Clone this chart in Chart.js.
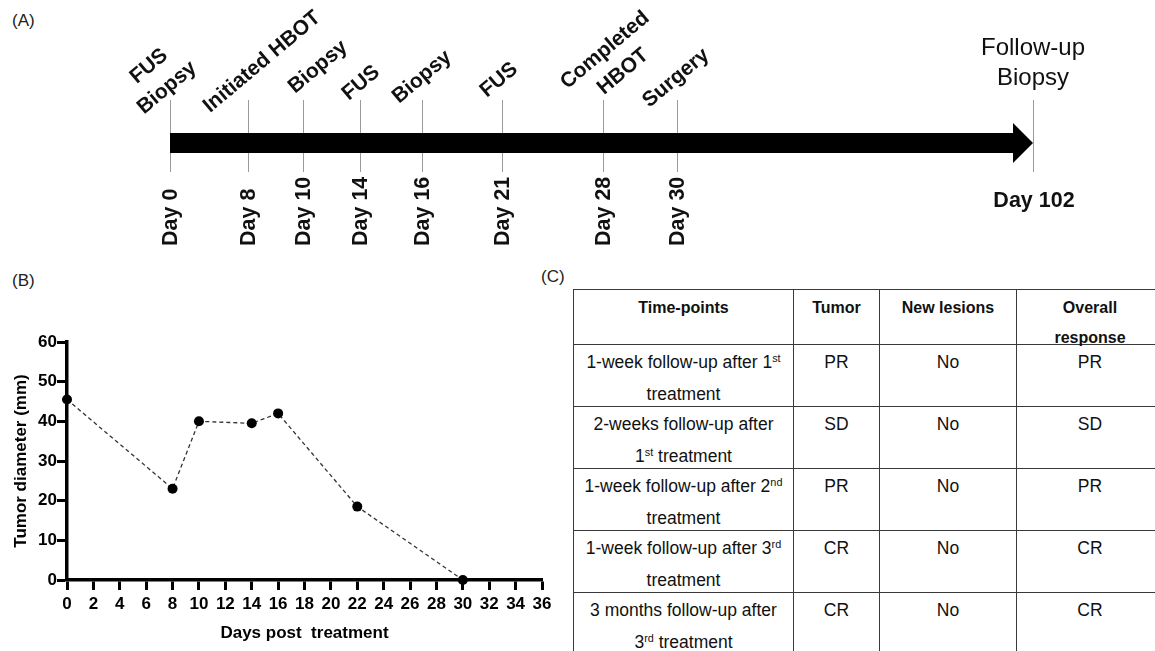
<!DOCTYPE html>
<html><head><meta charset="utf-8">
<script src="https://cdn.jsdelivr.net/npm/chart.js@4/dist/chart.umd.min.js"></script>
<style>
html,body{margin:0;padding:0;background:#fff;width:1155px;height:651px;overflow:hidden;position:relative;font-family:"Liberation Sans",Arial,Helvetica,sans-serif;color:#111;}
.plab{position:absolute;font-size:17px;color:#222;line-height:1;}
#cA{position:absolute;left:0;top:0;}
#cB{position:absolute;left:0;top:290px;}
table{position:absolute;left:573px;top:289px;border-collapse:collapse;table-layout:fixed;width:590px;}
td,th{border:1px solid #3a3a3a;text-align:center;vertical-align:top;padding:0;white-space:nowrap;color:#111;}
th div{height:54px;overflow:visible;font-weight:bold;font-size:16px;line-height:30px;padding-top:3px;box-sizing:border-box;}
td div{height:61px;overflow:visible;font-size:17.5px;line-height:32px;padding-top:1px;box-sizing:border-box;}
sup{font-size:0.62em;line-height:0;vertical-align:0.55em;}
</style></head>
<body>
<div class="plab" style="left:12px;top:12px;">(A)</div>
<div class="plab" style="left:12px;top:272px;">(B)</div>
<div class="plab" style="left:541px;top:268px;">(C)</div>
<canvas id="cA" width="1155" height="270"></canvas>
<canvas id="cB" width="560" height="361"></canvas>
<table id="tbl"></table>
<script>
// ---------- Data ----------
// Panel A: timeline events
const timelineDays = [0, 8, 10, 14, 16, 21, 28, 30, 102];
const timelineEvents = [["FUS", "Biopsy"], ["Initiated HBOT"], ["Biopsy"], ["FUS"], ["Biopsy"], ["FUS"], ["Completed", "HBOT"], ["Surgery"], ["Follow-up", "Biopsy"]];
// schematic position along the timeline arrow (0 = start, 100 = arrow tip)
const timelinePos = [0, 9.04, 15.41, 22.02, 29.20, 38.47, 50.17, 58.75, 100];

// Panel B: tumor diameter
const days = [0, 8, 10, 14, 16, 22, 30];
const tumorDiameter = [45.5, 23, 40, 39.5, 42, 18.5, 0];

// Panel C: response table
const tableHeader = ["Time-points", "Tumor", "New lesions", "Overall<br>response"];
const timePoints = [
  ["1-week follow-up after 1<sup>st</sup>", "treatment"],
  ["2-weeks follow-up after", "1<sup>st</sup> treatment"],
  ["1-week follow-up after 2<sup>nd</sup>", "treatment"],
  ["1-week follow-up after 3<sup>rd</sup>", "treatment"],
  ["3 months follow-up after", "3<sup>rd</sup> treatment"]
];
const tumorResponse = ["PR", "SD", "PR", "CR", "CR"];
const newLesions = ["No", "No", "No", "No", "No"];
const overallResponse = ["PR", "SD", "PR", "CR", "CR"];

// ---------- Styles ----------
const FONT = '"Liberation Sans", Arial, Helvetica, sans-serif';
Chart.defaults.font.family = FONT;
Chart.defaults.color = '#000';
// label placement for the event labels above the arrow (offset from tick, centre y)
const eventLabelStyle = [
  {dx: -12, cy: 77}, {dx: 14, cy: 62}, {dx: 15, cy: 67}, {dx: 1, cy: 83},
  {dx: 0, cy: 77}, {dx: -3, cy: 80}, {dx: 11, cy: 61}, {dx: -1, cy: 78}, {plain: true}
];

// ---------- Panel A ----------
const timelinePlugin = {
  id: 'timeline',
  afterDatasetsDraw(chart) {
    const {ctx} = chart;
    const xs = chart.scales.x, ys = chart.scales.y;
    const cy = ys.getPixelForValue(0);
    const px = timelinePos.map(p => xs.getPixelForValue(p));
    ctx.save();
    // event ticks
    ctx.strokeStyle = '#9a9a9a';
    ctx.lineWidth = 1;
    px.forEach(x => {
      ctx.beginPath();
      ctx.moveTo(Math.round(x) + 0.5, cy - 43);
      ctx.lineTo(Math.round(x) + 0.5, cy + 29);
      ctx.stroke();
    });
    // arrow
    const xa = px[0], xb = px[px.length - 1], head = 20;
    ctx.fillStyle = '#000';
    ctx.fillRect(xa, cy - 10, xb - head - xa, 20);
    ctx.beginPath();
    ctx.moveTo(xb - head, cy - 20);
    ctx.lineTo(xb, cy);
    ctx.lineTo(xb - head, cy + 20);
    ctx.closePath();
    ctx.fill();
    // labels
    ctx.fillStyle = '#111';
    timelineDays.forEach((d, i) => {
      const x = px[i];
      const st = eventLabelStyle[i];
      const dayText = 'Day ' + d;
      if (st.plain) {
        ctx.font = 'bold 21.5px ' + FONT;
        ctx.textAlign = 'center';
        ctx.textBaseline = 'alphabetic';
        ctx.fillText(dayText, x + 1, 207);
        ctx.font = '24px ' + FONT;
        timelineEvents[i].forEach((t, k) => ctx.fillText(t, x, 55 + k * 30));
      } else {
        // day label, rotated vertical
        ctx.save();
        ctx.translate(x + 7, 246);
        ctx.rotate(-Math.PI / 2);
        ctx.font = 'bold 21.5px ' + FONT;
        ctx.textAlign = 'left';
        ctx.textBaseline = 'alphabetic';
        ctx.fillText(dayText, 0, 0);
        ctx.restore();
        // event label, rotated 40 degrees
        ctx.save();
        ctx.translate(x + st.dx, st.cy);
        ctx.rotate(-40 * Math.PI / 180);
        ctx.font = 'bold 21px ' + FONT;
        ctx.textAlign = 'center';
        ctx.textBaseline = 'middle';
        const lines = timelineEvents[i];
        lines.forEach((t, k) => ctx.fillText(t, 0, (k - (lines.length - 1) / 2) * 28));
        ctx.restore();
      }
    });
    ctx.restore();
  }
};

new Chart(document.getElementById('cA'), {
  type: 'scatter',
  data: {datasets: [{data: timelinePos.map(p => ({x: p, y: 0})), pointRadius: 0}]},
  options: {
    responsive: false, animation: false, events: [],
    layout: {padding: {left: 170, right: 122, top: 16, bottom: 0}},
    plugins: {legend: {display: false}, tooltip: {enabled: false}},
    scales: {
      x: {type: 'linear', display: false, min: 0, max: 100},
      y: {type: 'linear', display: false, min: -1, max: 1}
    }
  },
  plugins: [timelinePlugin]
});

// ---------- Panel B ----------
new Chart(document.getElementById('cB'), {
  type: 'line',
  data: {
    datasets: [{
      data: days.map((d, i) => ({x: d, y: tumorDiameter[i]})),
      borderColor: '#333', borderWidth: 1.3, borderDash: [4, 3],
      pointRadius: 5, pointBackgroundColor: '#000', pointBorderColor: '#000', pointBorderWidth: 0,
      tension: 0, clip: false
    }]
  },
  options: {
    responsive: false, animation: false, events: [],
    layout: {padding: {left: 0, right: 18, top: 52, bottom: 0}},
    plugins: {legend: {display: false}, tooltip: {enabled: false}},
    scales: {
      x: {
        type: 'linear', min: 0, max: 36,
        ticks: {stepSize: 2, font: {size: 17, weight: 'bold'}, padding: 4, color: '#000', maxRotation: 0, autoSkip: false},
        grid: {drawOnChartArea: false, drawTicks: true, tickLength: 10, tickWidth: 3, tickColor: '#000'},
        border: {display: true, color: '#000', width: 3.5},
        title: {display: true, text: 'Days post  treatment', font: {size: 17, weight: 'bold'}, color: '#000', padding: {top: 0, bottom: 7}},
        afterFit: s => { s.height = 71; }
      },
      y: {
        type: 'linear', min: 0, max: 60,
        ticks: {stepSize: 10, font: {size: 17, weight: 'bold'}, padding: 0, color: '#000'},
        grid: {drawOnChartArea: false, drawTicks: true, tickLength: 10, tickWidth: 3, tickColor: '#000'},
        border: {display: true, color: '#000', width: 3.5},
        title: {display: true, text: 'Tumor diameter (mm)', font: {size: 17, weight: 'bold'}, color: '#000', padding: {top: 11, bottom: 0}},
        afterFit: s => { s.width = 67; }
      }
    }
  }
});

// ---------- Panel C ----------
(function () {
  const tbl = document.getElementById('tbl');
  const colW = [220, 86, 137, 147];
  let html = '<colgroup>' + colW.map(w => '<col style="width:' + w + 'px">').join('') + '</colgroup>';
  html += '<tr>' + tableHeader.map(h => '<th><div>' + h + '</div></th>').join('') + '</tr>';
  timePoints.forEach((tp, i) => {
    const cells = [tp.join('<br>'), tumorResponse[i], newLesions[i], overallResponse[i]];
    html += '<tr>' + cells.map(c => '<td><div>' + c + '</div></td>').join('') + '</tr>';
  });
  tbl.innerHTML = html;
})();
</script>
</body></html>
